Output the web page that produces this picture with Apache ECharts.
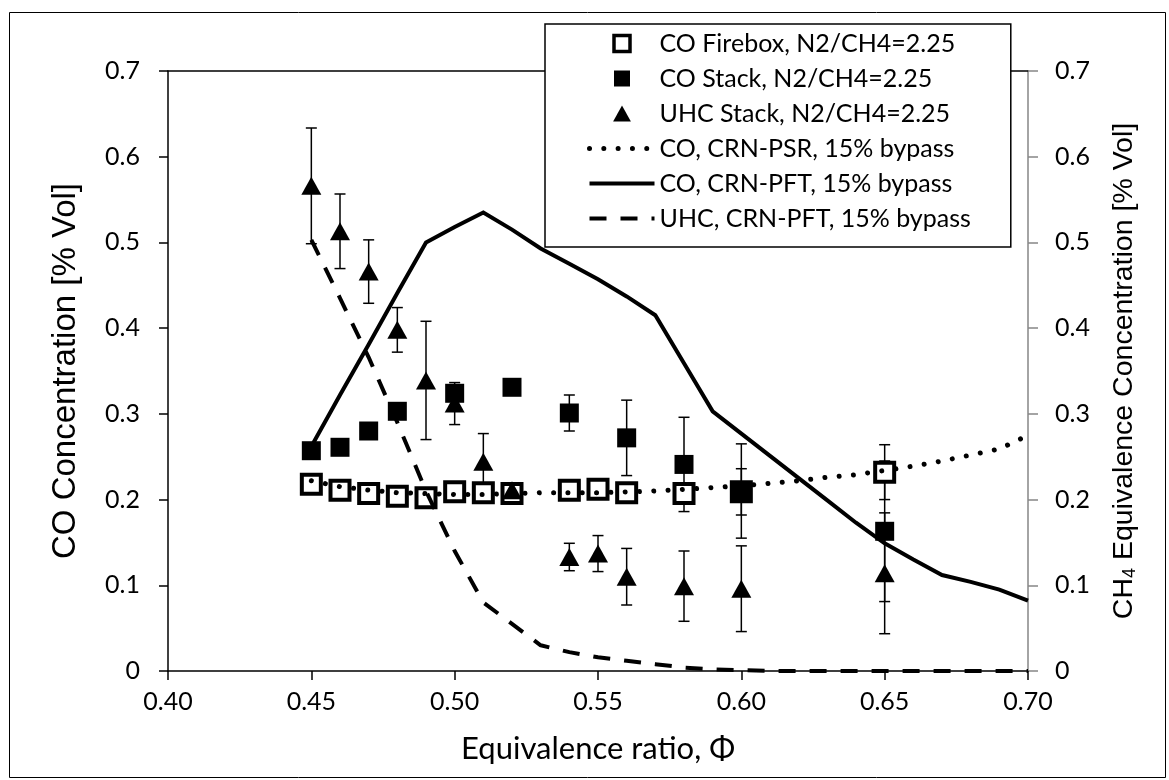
<!DOCTYPE html>
<html><head><meta charset="utf-8">
<script src="https://cdn.jsdelivr.net/npm/echarts@6/dist/echarts.min.js"></script>
<style>html,body{margin:0;padding:0;background:#fff}#c{width:1169px;height:780px}</style>
</head><body><div id="c"></div>
<script>
// ---- data ----
const phiFirebox = [0.45,0.46,0.47,0.48,0.49,0.50,0.51,0.52,0.54,0.55,0.56,0.58,0.60,0.65];
const coFirebox  = [0.218,0.211,0.207,0.204,0.202,0.209,0.208,0.207,0.211,0.212,0.208,0.207,0.209,0.232];
const coFireboxErr = [0.009,0.009,0.008,0.008,0.008,0.003,0.005,0.004,0.004,0.004,0.004,0.008,0.027,0.032];

const phiStack = [0.45,0.46,0.47,0.48,0.50,0.52,0.54,0.56,0.58,0.60,0.65];
const coStack  = [0.257,0.261,0.280,0.303,0.324,0.331,0.301,0.272,0.241,0.210,0.163];
const coStackErr = [0,0,0,0,0.005,0,0.021,0.044,0.055,0.055,0.082];

const phiUhc = [0.45,0.46,0.47,0.48,0.49,0.50,0.51,0.52,0.54,0.55,0.56,0.58,0.60,0.65];
const uhcStack = [0.566,0.513,0.466,0.398,0.339,0.312,0.244,0.211,0.133,0.137,0.110,0.099,0.096,0.114];
const uhcStackErr = [0.0675,0.0435,0.037,0.026,0.069,0.0245,0.033,0.005,0.016,0.021,0.033,0.041,0.050,0.0705];

const phiModel = [0.45,0.46,0.47,0.48,0.49,0.50,0.51,0.52,0.53,0.54,0.55,0.56,0.57,0.58,0.59,0.60,0.61,0.62,0.63,0.64,0.65,0.66,0.67,0.68,0.69,0.70];
const coPsr = [0.222,0.215,0.211,0.208,0.207,0.206,0.206,0.207,0.208,0.208,0.208,0.209,0.210,0.212,0.214,0.216,0.219,0.222,0.226,0.229,0.234,0.239,0.245,0.252,0.259,0.275];
const coPft = [0.262,0.322,0.381,0.441,0.500,0.518,0.535,0.515,0.493,0.475,0.457,0.437,0.415,0.359,0.303,0.277,0.251,0.225,0.199,0.173,0.149,0.130,0.112,0.104,0.095,0.082];
const uhcPft = [0.503,0.435,0.366,0.290,0.210,0.140,0.080,0.055,0.030,0.022,0.016,0.012,0.008,0.004,0.002,0.001,0,0,0,0,0,0,0,0,0,0];

const xTicks = {min:0.40, max:0.70, step:0.05};
const yTicks = {min:0, max:0.7, step:0.1};

const names = ['CO Firebox, N2/CH4=2.25','CO Stack, N2/CH4=2.25','UHC Stack, N2/CH4=2.25',
  'CO, CRN-PSR, 15% bypass','CO, CRN-PFT, 15% bypass','UHC, CRN-PFT, 15% bypass'];

// ---- build ----
const zip = (xs, ys) => xs.map((x,i)=>[x, ys[i]]);
function errSeries(xs, ys, es){
  const data = [];
  xs.forEach((x,i)=>{ if(es[i]>0) data.push([x, ys[i]-es[i], ys[i]+es[i]]); });
  return {type:'custom', data, silent:true, clip:false, encode:{x:0, y:[1,2]},
    renderItem(params, api){
      const x = api.value(0), lo = api.value(1), hi = api.value(2);
      const p1 = api.coord([x, lo]), p2 = api.coord([x, hi]);
      const w = 5.5, st = {stroke:'#000', lineWidth:1.5, fill:null};
      return {type:'group', children:[
        {type:'line', shape:{x1:p1[0],y1:p1[1],x2:p2[0],y2:p2[1]}, style:st},
        {type:'line', shape:{x1:p1[0]-w,y1:p1[1],x2:p1[0]+w,y2:p1[1]}, style:st},
        {type:'line', shape:{x1:p2[0]-w,y1:p2[1],x2:p2[0]+w,y2:p2[1]}, style:st}
      ]};
    }};
}
const tickFont = {fontFamily:'Lato', fontSize:25, color:'#000'};
const yFmt = v => v === 0 ? '0' : v.toFixed(1);
const transparent = 'rgba(0,0,0,0)';

const option = {
  animation:false,
  backgroundColor:'#fff',
  graphic:[{type:'rect', shape:{x:9.5,y:12.5,width:1156,height:765}, style:{fill:null, stroke:'#000', lineWidth:1}, z:-1, silent:true}],
  grid:{left:168, right:141, top:71, bottom:109, containLabel:false},
  legend:{
    orient:'vertical', left:545, top:24, itemWidth:65, itemHeight:16, itemGap:10,
    padding:[7,40,16,42], backgroundColor:'#fff', borderColor:'#000', borderWidth:1.5,
    textStyle:{fontFamily:'Lato', fontSize:25, color:'#000'},
    selectedMode:false, z:20,
    data:[
      {name:names[0], icon:'path://M0,0H10V10H0Z', itemStyle:{color:'#fff', borderColor:'#000', borderWidth:3.5}},
      {name:names[1], icon:'path://M0,0H10V10H0Z', itemStyle:{color:'#000', borderWidth:0}},
      {name:names[2], icon:'path://M5,0L10,9L0,9Z', itemStyle:{color:'#000', borderWidth:0}},
      {name:names[3], itemStyle:{color:transparent, borderColor:transparent, borderWidth:0}, lineStyle:{color:'#000', width:5, type:[0.01,14.3], cap:'round'}},
      {name:names[4], itemStyle:{color:transparent, borderColor:transparent, borderWidth:0}, lineStyle:{color:'#000', width:4, type:'solid'}},
      {name:names[5], itemStyle:{color:transparent, borderColor:transparent, borderWidth:0}, lineStyle:{color:'#000', width:4, type:[17,14], cap:'butt'}}
    ]
  },
  xAxis:[{
    type:'value', position:'bottom', min:xTicks.min, max:xTicks.max, interval:xTicks.step,
    name:'Equivalence ratio, Φ', nameLocation:'middle', nameGap:62,
    nameTextStyle:{fontFamily:'Lato', fontSize:31, color:'#000'},
    axisLine:{onZero:false, lineStyle:{color:'#000', width:1.5}},
    axisTick:{show:true, inside:false, length:9, lineStyle:{color:'#000', width:1.5}},
    axisLabel:Object.assign({margin:18, formatter:v=>v.toFixed(2)}, tickFont),
    splitLine:{show:false}
  },{
    type:'value', position:'top', min:xTicks.min, max:xTicks.max, interval:xTicks.step,
    axisLine:{onZero:false, lineStyle:{color:'#000', width:1.5}},
    axisTick:{show:false}, axisLabel:{show:false}, splitLine:{show:false}
  }],
  yAxis:[{
    type:'value', position:'left', min:yTicks.min, max:yTicks.max, interval:yTicks.step,
    name:'CO Concentration [% Vol]', nameLocation:'middle', nameRotate:90, nameGap:86,
    nameTextStyle:{fontFamily:'Liberation Sans', fontSize:33, color:'#000'},
    axisLine:{show:true, onZero:false, lineStyle:{color:'#000', width:1.5}},
    axisTick:{show:true, inside:false, length:9, lineStyle:{color:'#000', width:1.5}},
    axisLabel:Object.assign({margin:28, formatter:yFmt}, tickFont),
    splitLine:{show:false}
  },{
    type:'value', position:'right', min:yTicks.min, max:yTicks.max, interval:yTicks.step,
    name:'{n|CH}{s|4}{n| Equivalence Concentration [% Vol]}', nameLocation:'middle', nameRotate:90, nameGap:79,
    nameTextStyle:{color:'#000', rich:{
      n:{fontFamily:'Liberation Sans', fontSize:28.5, color:'#000', lineHeight:32, verticalAlign:'bottom'},
      s:{fontFamily:'Liberation Sans', fontSize:18, color:'#000', lineHeight:24, verticalAlign:'bottom'}}},
    axisLine:{show:true, onZero:false, lineStyle:{color:'#868686', width:1.5}},
    axisTick:{show:true, inside:false, length:10, lineStyle:{color:'#868686', width:1.5}},
    axisLabel:Object.assign({margin:27, formatter:yFmt}, tickFont),
    splitLine:{show:false}
  }],
  series:[
    {name:names[0], type:'scatter', data:zip(phiFirebox, coFirebox), symbol:'rect', symbolSize:19,
      itemStyle:{color:'#fff', borderColor:'#000', borderWidth:4, opacity:1}, silent:true, z:2},
    errSeries(phiFirebox, coFirebox, coFireboxErr),
    {name:names[1], type:'scatter', data:zip(phiStack, coStack), symbol:'rect', symbolSize:19,
      itemStyle:{color:'#000', opacity:1}, silent:true, z:2},
    errSeries(phiStack, coStack, coStackErr),
    {name:names[2], type:'scatter', data:zip(phiUhc, uhcStack), symbol:'triangle', symbolSize:[20,18],
      itemStyle:{color:'#000', opacity:1}, silent:true, z:2},
    errSeries(phiUhc, uhcStack, uhcStackErr),
    {name:names[3], type:'line', data:zip(phiModel, coPsr), symbol:'none', silent:true, z:3,
      lineStyle:{color:'#000', width:5, type:[0.01,14.3], cap:'round'}, itemStyle:{color:'#000'}},
    {name:names[4], type:'line', data:zip(phiModel, coPft), symbol:'none', silent:true, z:3,
      lineStyle:{color:'#000', width:4, type:'solid', join:'miter'}, itemStyle:{color:'#000'}},
    {name:names[5], type:'line', data:zip(phiModel, uhcPft), symbol:'none', silent:true, z:3,
      lineStyle:{color:'#000', width:4, type:[17,14], cap:'butt'}, itemStyle:{color:'#000'}}
  ]
};
const chart = echarts.init(document.getElementById('c'), null, {renderer:'canvas'});
chart.setOption(option);
</script>
</body></html>
